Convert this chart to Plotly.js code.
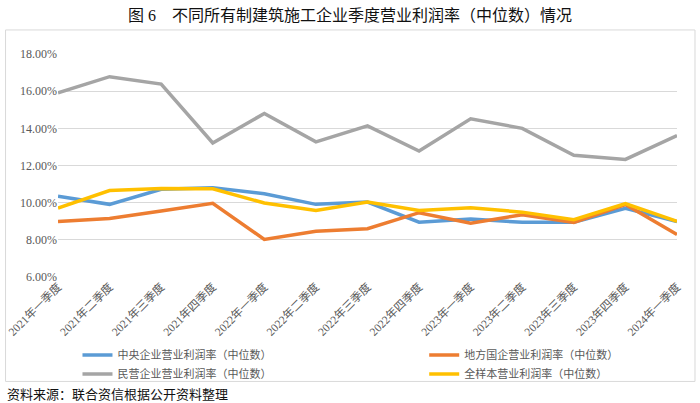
<!DOCTYPE html>
<html>
<head>
<meta charset="utf-8">
<script src="https://cdn.plot.ly/plotly-3.0.1.min.js"></script>
<style>
  body { margin: 0; background: #fff; }
  #chart { width: 700px; height: 403px; }
</style>
</head>
<body>
<div id="chart"></div>
<script>
// quarters on the x axis
var quarters = ['2021年一季度', '2021年二季度', '2021年三季度', '2021年四季度',
    '2022年一季度', '2022年二季度', '2022年三季度', '2022年四季度',
    '2023年一季度', '2023年二季度', '2023年三季度', '2023年四季度', '2024年一季度'];

// median operating profit margin, %
var central = [10.35, 9.91, 10.72, 10.80, 10.48, 9.91, 10.03, 8.95, 9.12, 8.94, 8.94, 9.70, 8.99];
var localSoe = [8.99, 9.15, 9.55, 9.97, 8.02, 8.46, 8.60, 9.46, 8.90, 9.35, 8.94, 9.90, 8.29];
var privateCo = [15.91, 16.78, 16.38, 13.21, 14.80, 13.27, 14.13, 12.78, 14.51, 14.00, 12.55, 12.33, 13.61];
var allSample = [9.71, 10.65, 10.76, 10.75, 9.98, 9.58, 10.03, 9.58, 9.73, 9.49, 9.08, 9.95, 8.99];

var names = ['中央企业营业利润率（中位数）', '地方国企营业利润率（中位数）',
    '民营企业营业利润率（中位数）', '全样本营业利润率（中位数）'];
var colors = ['#5B9BD5', '#ED7D31', '#A5A5A5', '#FFC000'];
var series = [central, localSoe, privateCo, allSample];
// left column of the legend: central + private, right column: local + all
var legendOf = ['legend', 'legend2', 'legend', 'legend2'];

var W = 700, H = 403;
var mL = 57.5, mR = 23, mT = 54, mB = 126.3;
var pw = W - mL - mR, ph = H - mT - mB;
// pixel -> paper helpers for the frame and notes
function px(x) { return (x - mL) / pw; }
function py(y) { return (H - mB - y) / ph; }

var data = series.map(function (s, i) {
    return {
        type: 'scatter', mode: 'lines',
        x: quarters, y: s, name: names[i],
        legend: legendOf[i],
        line: {color: colors[i], width: 3.5},
        hoverinfo: 'x+y+name'
    };
});

var latin = 'Liberation Serif, Noto Sans CJK SC, serif';
var legFont = {family: 'Noto Sans CJK SC, sans-serif', size: 11, color: '#595959'};

var layout = {
    width: W, height: H,
    margin: {l: mL, r: mR, t: mT, b: mB},
    paper_bgcolor: '#fff', plot_bgcolor: '#fff',
    title: {
        text: '图 6\u3000不同所有制建筑施工企业季度营业利润率（中位数）情况',
        font: {family: latin, size: 16, color: '#111'},
        xref: 'container', x: 0.5, xanchor: 'center',
        yref: 'container', y: 1 - 15 / H, yanchor: 'middle'
    },
    xaxis: {
        type: 'category', tickangle: -45, automargin: false,
        showgrid: false, showline: false, zeroline: false, ticks: '',
        tickfont: {family: latin, size: 11.5, color: '#595959'}
    },
    yaxis: {
        range: [6, 18], dtick: 2, tick0: 6, automargin: false,
        tickformat: '.2f', ticksuffix: '%',
        showgrid: true, gridcolor: '#D9D9D9', gridwidth: 1,
        zeroline: false, showline: false, ticks: '',
        tickfont: {family: latin, size: 12, color: '#595959'}
    },
    showlegend: true,
    legend: {
        orientation: 'v', x: px(77), xanchor: 'left',
        y: py(340), yanchor: 'top', itemwidth: 30,
        traceorder: 'normal', font: legFont, bgcolor: 'rgba(0,0,0,0)'
    },
    legend2: {
        orientation: 'v', x: px(424), xanchor: 'left',
        y: py(340), yanchor: 'top', itemwidth: 30,
        traceorder: 'normal', font: legFont, bgcolor: 'rgba(0,0,0,0)'
    },
    shapes: [{
        type: 'rect', xref: 'paper', yref: 'paper',
        x0: px(5), x1: px(695), y0: py(381), y1: py(30),
        line: {color: '#D9D9D9', width: 1}, fillcolor: 'rgba(0,0,0,0)', layer: 'below'
    }],
    annotations: [{
        text: '资料来源：联合资信根据公开资料整理',
        xref: 'paper', yref: 'paper', x: px(4), y: py(393),
        xanchor: 'left', yanchor: 'middle', showarrow: false,
        font: {family: 'Noto Sans CJK SC, sans-serif', size: 13, color: '#111'}
    }]
};

Plotly.newPlot('chart', data, layout, {displayModeBar: false, staticPlot: true});
</script>
</body>
</html>
